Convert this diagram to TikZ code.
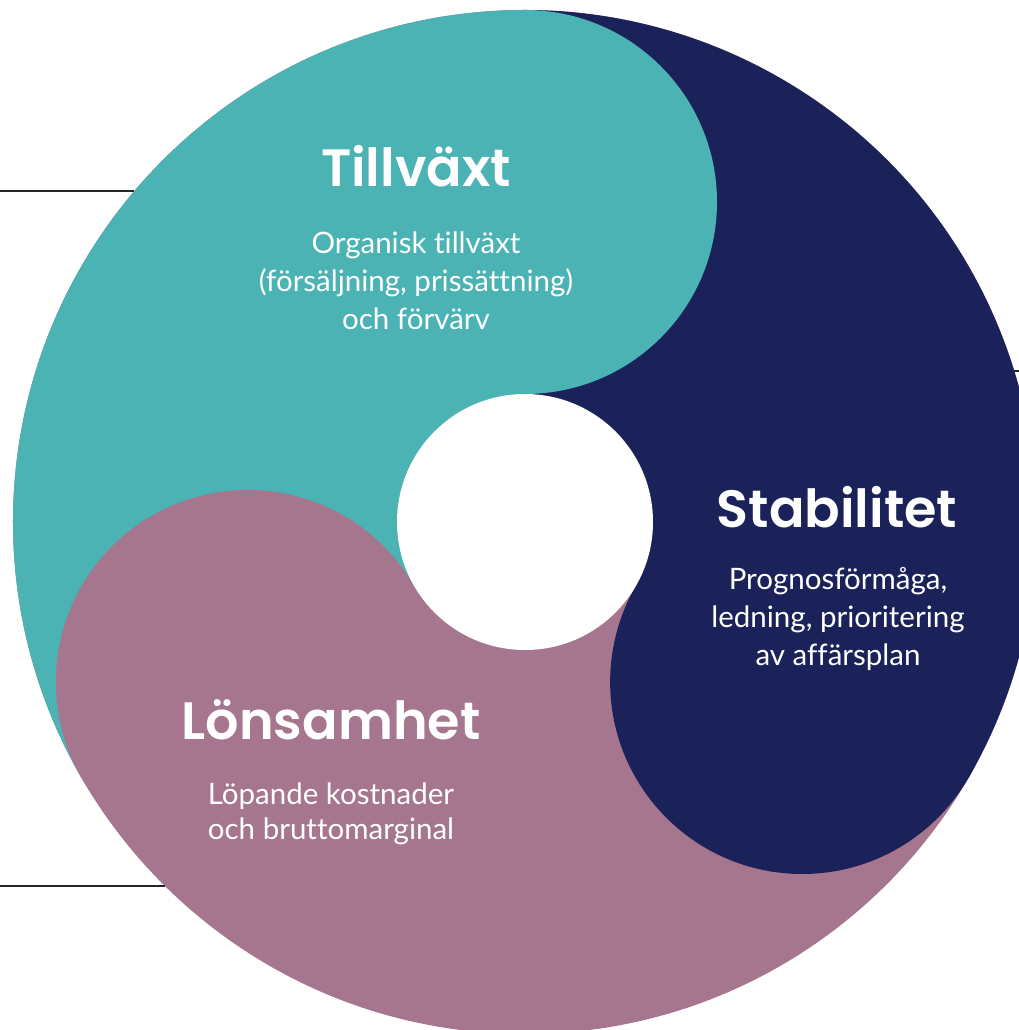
\documentclass[tikz,border=0pt]{standalone}
\usepackage{fontspec}
\setmainfont{Lato}[Ligatures=NoCommon]
\newfontfamily\titlefont{Poppins SemiBold}
\usetikzlibrary{positioning,calc}
\definecolor{cteal}{RGB}{75,179,180}
\definecolor{cnavy}{RGB}{27,34,89}
\definecolor{cmauve}{RGB}{166,118,143}

\begin{document}
\begin{tikzpicture}[x=1pt,y=1pt,
    title/.style={text=white,font=\titlefont\fontsize{52.5}{60}\selectfont},
    body/.style={text=white,align=center,font=\fontsize{29.5}{38}\selectfont},
    rule/.style={draw=black!85,line width=1.3pt}]
  \useasboundingbox (-525,-508) rectangle (494,522);

  % three sectors, then the lobes over them
  \fill[cmauve] (0,0) circle[radius=512];
  \fill[cteal] (0,0) -- (90:512) arc[start angle=90,end angle=210,radius=512] -- cycle;
  \fill[cnavy] (0,0) -- (-30:512) arc[start angle=-30,end angle=90,radius=512] -- cycle;
  \fill[cteal] (90:320) circle[radius=192];
  \fill[cnavy] (-30:320) circle[radius=192];
  \fill[cmauve] (210:320) circle[radius=192];
  \fill[white] (0,0) circle[radius=128];

  % side rules
  \coordinate (ruleA) at (-525,331);
  \coordinate (ruleB) at (-525,-364);
  \coordinate (ruleC) at (494,151);
  \draw[rule] (ruleA) -- ($(ruleA)+(134.4,0)$);
  \draw[rule] (ruleB) -- ($(ruleB)+(165,0)$);
  \draw[rule] (ruleC) -- ($(ruleC)+(-5,0)$);

  \node[title] (tillvaxt) at (-109,356) {Tillväxt};
  \node[body] (tillvaxtText) at (-109,241)
    {Organisk tillväxt\\(försäljning, prissättning)\\och förvärv};

  \node[title] (stabilitet) at (312,15) {Stabilitet};
  \node[body] (stabilitetText) at (313,-97)
    {Prognosförmåga,\\ledning, prioritering\\av affärsplan};

  \node[title] (lonsamhet) at (-194,-198) {Lönsamhet};
  \node[body,font=\fontsize{29.5}{35.5}\selectfont] (lonsamhetText) at (-194,-292)
    {Löpande kostnader\\och bruttomarginal};
\end{tikzpicture}
\end{document}
